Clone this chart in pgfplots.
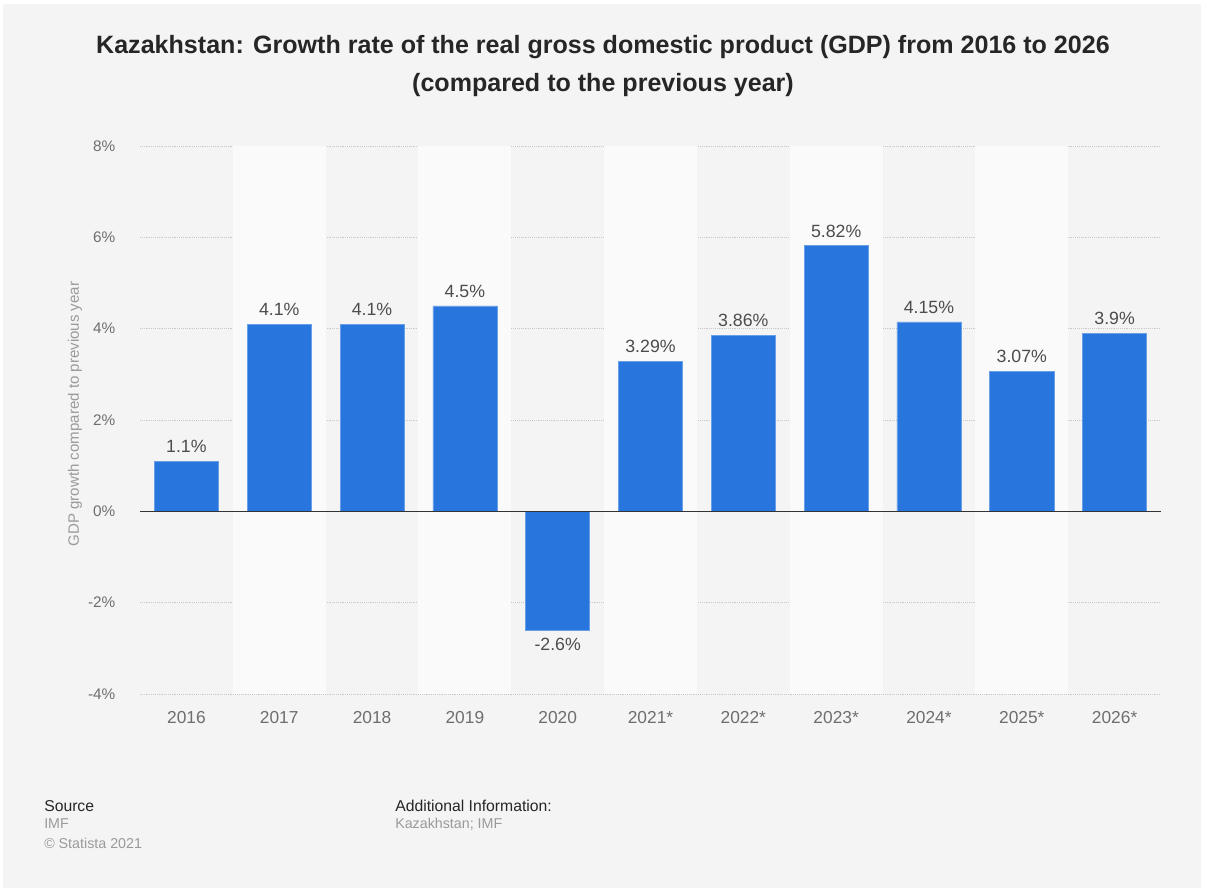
\documentclass[border=0pt]{standalone}
\usepackage{pgfplots}
\pgfplotsset{compat=1.18}
\usepackage{fontspec}
\setmainfont{Liberation Sans}
\definecolor{bg}{HTML}{F4F4F4}
\definecolor{band}{HTML}{FAFAFA}
\definecolor{barblue}{HTML}{2876DD}
\definecolor{tickgray}{HTML}{6E6E6E}
\definecolor{gridgray}{HTML}{C8C8C8}
\definecolor{footgray}{HTML}{9A9A9A}
\begin{document}
\begin{tikzpicture}[x=0.75pt,y=0.75pt]
\fill[white] (0,0) rectangle (1205,892);
\fill[bg] (3,4) rectangle (1201,888);
\node[font=\bfseries\fontsize{18.8}{22}\selectfont, text=black!85] at (603,845) {Kazakhstan: Growth rate of the real gross domestic product (GDP) from 2016 to 2026};
\node[font=\bfseries\fontsize{18.8}{22}\selectfont, text=black!85] at (603,807) {(compared to the previous year)};
\node[rotate=90, font=\fontsize{11.3}{13}\selectfont, text=footgray] at (75,478) {GDP growth compared to previous year};
\begin{axis}[
  at={(105pt,148.5pt)}, anchor=south west,
  scale only axis, width=765.75pt, height=411pt,
  xmin=-0.5, xmax=10.5, ymin=-4, ymax=8,
  axis line style={draw=none},
  clip=false,
  xtick=data,
  xticklabels={2016,2017,2018,2019,2020,2021*,2022*,2023*,2024*,2025*,2026*},
  ytick={-4,-2,0,2,4,6,8},
  yticklabels={-4\%,-2\%,0\%,2\%,4\%,6\%,8\%},
  ymajorgrids, grid style={gridgray, densely dotted, line width=0.6pt},
  tick style={draw=none},
  xticklabel style={font=\fontsize{13}{15}\selectfont, text=tickgray, yshift=-5pt},
  yticklabel style={font=\fontsize{11.5}{13}\selectfont, text=tickgray, xshift=-15pt},
  ybar, bar width=0.69,
  nodes near coords,
  point meta=explicit symbolic,
  visualization depends on={y \as \rawy},
  nodes near coords style={font=\fontsize{13.3}{15}\selectfont, text=black!70, inner sep=6pt,
    anchor={\ifdim\rawy pt<0pt north\else south\fi}},
]
\pgfplotsinvokeforeach{1,3,5,7,9}{
  \fill[band] (axis cs:#1-0.5,-4) rectangle (axis cs:#1+0.5,8);
}
\addplot[fill=barblue, draw=barblue!70!white, line width=0.4pt] table[meta=label] {
x y label
0 1.1 1.1\%
1 4.1 4.1\%
2 4.1 4.1\%
3 4.5 4.5\%
4 -2.6 -2.6\%
5 3.29 3.29\%
6 3.86 3.86\%
7 5.82 5.82\%
8 4.15 4.15\%
9 3.07 3.07\%
10 3.9 3.9\%
};
\draw[black!80, line width=1.2pt] (axis cs:-0.5,0) -- (axis cs:10.5,0);
\end{axis}
\node[anchor=west, inner sep=0pt, font=\fontsize{11.8}{13}\selectfont, text=black!85] at (44,86) {Source};
\node[anchor=west, inner sep=0pt, font=\fontsize{10.7}{12}\selectfont, text=footgray] at (44,68) {IMF};
\node[anchor=west, inner sep=0pt, font=\fontsize{10.7}{12}\selectfont, text=footgray] at (44,49) {\textcopyright{} Statista 2021};
\node[anchor=west, inner sep=0pt, font=\fontsize{11.8}{13}\selectfont, text=black!85] at (395,86) {Additional Information:};
\node[anchor=west, inner sep=0pt, font=\fontsize{10.7}{12}\selectfont, text=footgray] at (395,68) {Kazakhstan; IMF};
\end{tikzpicture}
\end{document}
